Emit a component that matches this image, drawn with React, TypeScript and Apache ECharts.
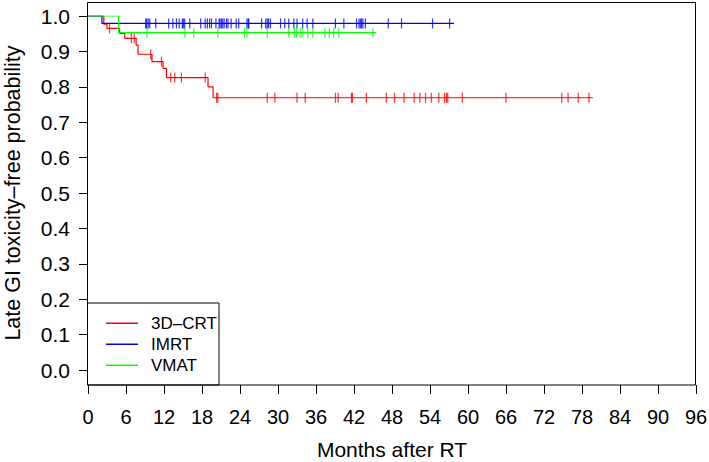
import React, { useEffect, useRef } from "react";
import * as echarts from "echarts";

// ---- data ----
const xTickMax = 96;
const xTickStep = 6;
const yTickStep = 0.1;

const groupNames = ["3D\u2013CRT", "IMRT", "VMAT"];
const groupColors = ["#FF0000", "#0000FF", "#00FF00"];

// 3D-CRT: event times (months) and survival after each event
const crtTimes = [0, 2.5, 3.0, 5.0, 5.8, 7.6, 7.9, 10.1, 11.85, 12.4, 18.95, 19.75];
const crtSurv = [1, 0.977, 0.965, 0.951, 0.937, 0.918, 0.892, 0.871, 0.852, 0.826, 0.8, 0.769];
const crtEnd = 79.7;
const crtCensor = [3.4, 6.85, 7.3, 9.9, 11.6, 13.06, 13.7, 14.75, 18.5, 20.3, 20.5, 28.3, 29.5, 33.0, 34.3, 39.07, 39.5, 41.6, 41.75, 43.96, 47.1, 48.4, 49.9, 51.5, 52.4, 53.3, 54.2, 55.4, 56.3, 56.6, 56.8, 59.1, 66.0, 74.8, 75.8, 77.4, 79.1];

// IMRT
const imrtTimes = [0, 2.2];
const imrtSurv = [1, 0.979];
const imrtEnd = 57.8;
const imrtCensor = [9.1, 9.27, 9.5, 9.74, 10.7, 12.74, 13.4, 13.96, 14.4, 14.9, 15.06, 15.27, 16.06, 17.8, 18.5, 18.85, 19.2, 19.5, 20.2, 20.7, 20.84, 21.07, 21.27, 21.5, 21.86, 22.1, 22.6, 23.4, 23.8, 25.1, 25.3, 25.4, 27.4, 28.06, 28.3, 28.5, 28.8, 30.4, 31.06, 31.7, 32.5, 33.0, 33.9, 34.6, 35.5, 39.07, 40.4, 42.4, 42.8, 43.0, 43.2, 43.4, 43.8, 47.4, 49.5, 54.4, 57.1];

// VMAT
const vmatTimes = [0, 4.85];
const vmatSurv = [1, 0.953];
const vmatEnd = 45.5;
const vmatCensor = [9.3, 15.3, 16.7, 20.5, 24.7, 25.1, 28.3, 31.7, 32.6, 32.9, 33.5, 33.8, 34.7, 35.5, 37.4, 38.1, 38.8, 39.6, 45.0];

const FONT = "'Liberation Sans', Arial, Helvetica, sans-serif";

function stepData(times: number[], surv: number[], end: number) {
  const d = times.map((t, i) => [t, surv[i]]);
  d.push([end, surv[surv.length - 1]]);
  return d;
}

function censorData(times: number[], surv: number[], cens: number[]) {
  return cens.map((c) => {
    let s = surv[0];
    for (let i = 0; i < times.length; i++) if (times[i] <= c) s = surv[i];
    return [c, s];
  });
}

export default function App() {
  const ref = useRef<HTMLDivElement>(null);
  useEffect(() => {
    if (!ref.current) return;
    document.body.style.margin = "0";
    const chart = echarts.init(ref.current, null, { renderer: "svg" });
    const groups = [
      { t: crtTimes, s: crtSurv, e: crtEnd, c: crtCensor },
      { t: imrtTimes, s: imrtSurv, e: imrtEnd, c: imrtCensor },
      { t: vmatTimes, s: vmatSurv, e: vmatEnd, c: vmatCensor },
    ];
    const series: any[] = [];
    groups.forEach((g, i) => {
      series.push({
        name: groupNames[i],
        type: "line",
        step: "end",
        data: stepData(g.t, g.s, g.e),
        showSymbol: false,
        symbol: "none",
        lineStyle: { color: groupColors[i], width: 1.2 },
        itemStyle: { color: groupColors[i] },
        z: 2 + i,
      });
      series.push({
        name: groupNames[i] + " censored",
        type: "scatter",
        data: censorData(g.t, g.s, g.c),
        symbol: "rect",
        symbolSize: [1.2, 10],
        itemStyle: { color: groupColors[i] },
        z: 2 + i,
      });
    });

    const gridLeft = 88;
    const gridRight = 709 - 696;
    const gridTop = 16;
    const gridBottom = 462 - 370;

    chart.setOption({
      animation: false,
      backgroundColor: "#ffffff",
      grid: {
        left: gridLeft,
        right: gridRight,
        top: gridTop,
        bottom: gridBottom,
        containLabel: false,
        outerBoundsMode: "none",
      },
      xAxis: {
        type: "value",
        min: 0,
        max: xTickMax,
        interval: xTickStep,
        position: "bottom",
        offset: 15,
        name: "Months after RT",
        nameLocation: "middle",
        nameGap: 54,
        nameTextStyle: { fontFamily: FONT, fontSize: 21, color: "#000" },
        axisLine: { show: false, onZero: false },
        axisTick: { show: true, inside: false, length: 9, lineStyle: { color: "#000", width: 1 } },
        axisLabel: { fontFamily: FONT, fontSize: 20, color: "#000", margin: 22 },
        splitLine: { show: false },
      },
      yAxis: {
        type: "value",
        min: 0,
        max: 1,
        interval: yTickStep,
        name: "Late GI toxicity\u2013free probability",
        nameLocation: "middle",
        nameGap: 64,
        nameTextStyle: { fontFamily: FONT, fontSize: 21.5, color: "#000" },
        axisLine: { show: false, onZero: false },
        axisTick: { show: true, length: 9, lineStyle: { color: "#000", width: 1 } },
        axisLabel: {
          fontFamily: FONT,
          fontSize: 21,
          color: "#000",
          margin: 18,
          formatter: (v: number) => v.toFixed(1),
        },
        splitLine: { show: false },
      },
      legend: {
        orient: "vertical",
        left: 101,
        top: 309.5,
        itemWidth: 32,
        itemHeight: 1.5,
        itemGap: 3.5,
        data: groupNames.map((n) => ({ name: n, icon: "rect" })),
        textStyle: { fontFamily: FONT, fontSize: 17, color: "#000", padding: [0, 0, 0, 8], lineHeight: 17.5 },
        selectedMode: false,
      },
      graphic: [
        {
          type: "rect",
          shape: { x: 87.5, y: 2.5, width: 608, height: 382.5 },
          style: { fill: "none", stroke: "#000", lineWidth: 1 },
          silent: true,
          z: 10,
        },
        {
          type: "rect",
          shape: { x: 87.5, y: 303, width: 131.5, height: 82 },
          style: { fill: "#fff", stroke: "#000", lineWidth: 1 },
          silent: true,
          z: 0,
        },
      ],
      series,
    });
    return () => chart.dispose();
  }, []);
  return <div ref={ref} style={{ width: 709, height: 462 }} />;
}
